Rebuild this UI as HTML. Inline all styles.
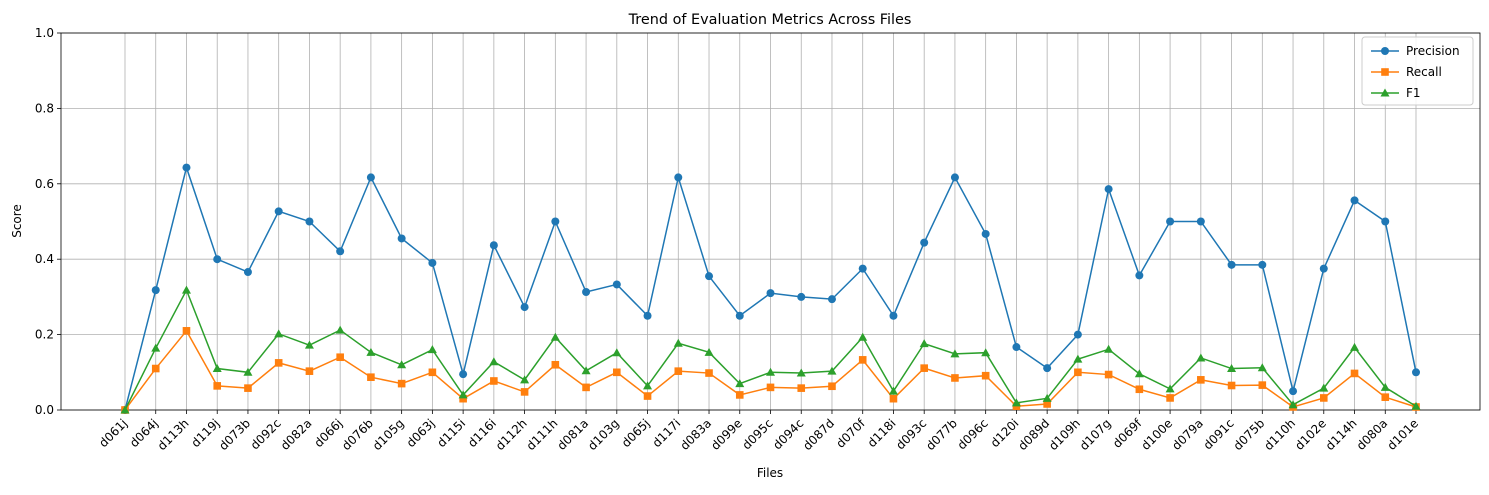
<!DOCTYPE html>
<html><head><meta charset="utf-8"><style>
body{margin:0;background:#fff;font-family:"Liberation Sans","DejaVu Sans",sans-serif}
svg text{font-family:"DejaVu Sans","Liberation Sans",sans-serif}
</style></head><body>
<svg id="chart" width="1489" height="490" xmlns="http://www.w3.org/2000/svg"></svg>
<script>
const categories=["d061j","d064j","d113h","d119j","d073b","d092c","d082a","d066j","d076b","d105g","d063j","d115i","d116i","d112h","d111h","d081a","d103g","d065j","d117i","d083a","d099e","d095c","d094c","d087d","d070f","d118i","d093c","d077b","d096c","d120i","d089d","d109h","d107g","d069f","d100e","d079a","d091c","d075b","d110h","d102e","d114h","d080a","d101e"];
const precision=[0,0.318,0.643,0.4,0.366,0.527,0.5,0.421,0.617,0.455,0.39,0.095,0.437,0.273,0.5,0.313,0.333,0.25,0.617,0.355,0.25,0.31,0.3,0.294,0.375,0.25,0.444,0.617,0.467,0.167,0.111,0.2,0.586,0.357,0.5,0.5,0.385,0.385,0.05,0.375,0.556,0.5,0.1];
const recall=[0,0.11,0.21,0.064,0.058,0.125,0.103,0.14,0.087,0.07,0.1,0.03,0.077,0.048,0.12,0.06,0.1,0.037,0.103,0.098,0.04,0.06,0.058,0.063,0.133,0.03,0.111,0.085,0.091,0.01,0.016,0.1,0.094,0.055,0.032,0.08,0.065,0.066,0.008,0.032,0.097,0.034,0.008];
const f1=[0,0.164,0.318,0.11,0.1,0.202,0.172,0.212,0.153,0.12,0.16,0.04,0.128,0.08,0.193,0.104,0.152,0.064,0.177,0.153,0.07,0.1,0.098,0.103,0.193,0.05,0.176,0.149,0.152,0.019,0.031,0.135,0.161,0.096,0.056,0.138,0.11,0.112,0.014,0.058,0.166,0.06,0.01];
const yTicks=[0,0.2,0.4,0.6,0.8,1.0];
const yTickLabels=["0.0","0.2","0.4","0.6","0.8","1.0"];
const L=61,R=1480,T=33,B=410;
const x0=125,x1=1416;
const xs=i=>x0+(x1-x0)*i/(categories.length-1);
const ys=v=>B-(B-T)*v;
const svg=document.getElementById('chart');
const NS="http://www.w3.org/2000/svg";
function mk(tag,a,p){const e=document.createElementNS(NS,tag);for(const k in a)e.setAttribute(k,a[k]);(p||svg).appendChild(e);return e;}
// grid
categories.forEach((c,i)=>{
 const g=mk('line',{x1:xs(i),x2:xs(i),y1:T,y2:B,stroke:'#b0b0b0','stroke-width':0.8});
 
 
 mk('line',{x1:xs(i),x2:xs(i),y1:B,y2:B+4,stroke:'#000','stroke-width':0.8});
 const t=mk('text',{x:0,y:0,'font-size':12,'text-anchor':'end',transform:`translate(${xs(i)+3},${B+14}) rotate(-45)`});
 t.textContent=c;
 
 
});
yTicks.forEach((v,i)=>{
 const g=mk('line',{x1:L,x2:R,y1:ys(v),y2:ys(v),stroke:'#b0b0b0','stroke-width':0.8});
 
 
 mk('line',{x1:L-4,x2:L,y1:ys(v),y2:ys(v),stroke:'#000','stroke-width':0.8});
 const t=mk('text',{x:L-7,y:ys(v)+4,'font-size':12,'text-anchor':'end'});
 t.textContent=yTickLabels[i];
 
 
});
const frame=mk('rect',{x:L,y:T,width:R-L,height:B-T,fill:'none',stroke:'#000','stroke-width':0.8});


function marker(type,x,y,color,p){
 if(type==='o')return mk('circle',{cx:x,cy:y,r:4,fill:color},p);
 if(type==='s')return mk('rect',{x:x-3.8,y:y-3.8,width:7.6,height:7.6,fill:color},p);
 return mk('polygon',{points:`${x},${y-4.5} ${x-4.5},${y+3.5} ${x+4.5},${y+3.5}`,fill:color},p);
}
const series=[["precision",precision,'#1f77b4','o'],["recall",recall,'#ff7f0e','s'],["f1",f1,'#2ca02c','^']];
series.forEach(([n,d,c,m])=>{
 const g=mk('g',{});
 
 
 const pl=mk('polyline',{points:d.map((v,i)=>xs(i)+','+ys(v)).join(' '),fill:'none',stroke:c,'stroke-width':1.5},g);
 
 
 d.forEach((v,i)=>{const e=marker(m,xs(i),ys(v),c,g);
  
  });
});
</script>
<svg style="position:absolute;left:0;top:0" width="1489" height="490" xmlns="http://www.w3.org/2000/svg">
<text x="770" y="24" font-size="14.4" text-anchor="middle">Trend of Evaluation Metrics Across Files</text>
<text x="770" y="477" font-size="12" text-anchor="middle">Files</text>
<text transform="translate(21,221) rotate(-90)" font-size="12" text-anchor="middle">Score</text>
<g>
<rect x="1362" y="37" width="111" height="68" rx="3" fill="#fff" fill-opacity="0.85" stroke="#ccc"/>
<g><line x1="1371" x2="1399" y1="51" y2="51" stroke="#1f77b4" stroke-width="1.5"/><circle cx="1385" cy="51" r="4" fill="#1f77b4"/><text x="1406" y="55" font-size="12">Precision</text></g>
<g><line x1="1371" x2="1399" y1="72" y2="72" stroke="#ff7f0e" stroke-width="1.5"/><rect x="1381.2" y="68.2" width="7.6" height="7.6" fill="#ff7f0e"/><text x="1406" y="76" font-size="12">Recall</text></g>
<g><line x1="1371" x2="1399" y1="93" y2="93" stroke="#2ca02c" stroke-width="1.5"/><polygon points="1385,88.5 1380.5,96.5 1389.5,96.5" fill="#2ca02c"/><text x="1406" y="97" font-size="12">F1</text></g>
</g>
</svg>
</body></html>
